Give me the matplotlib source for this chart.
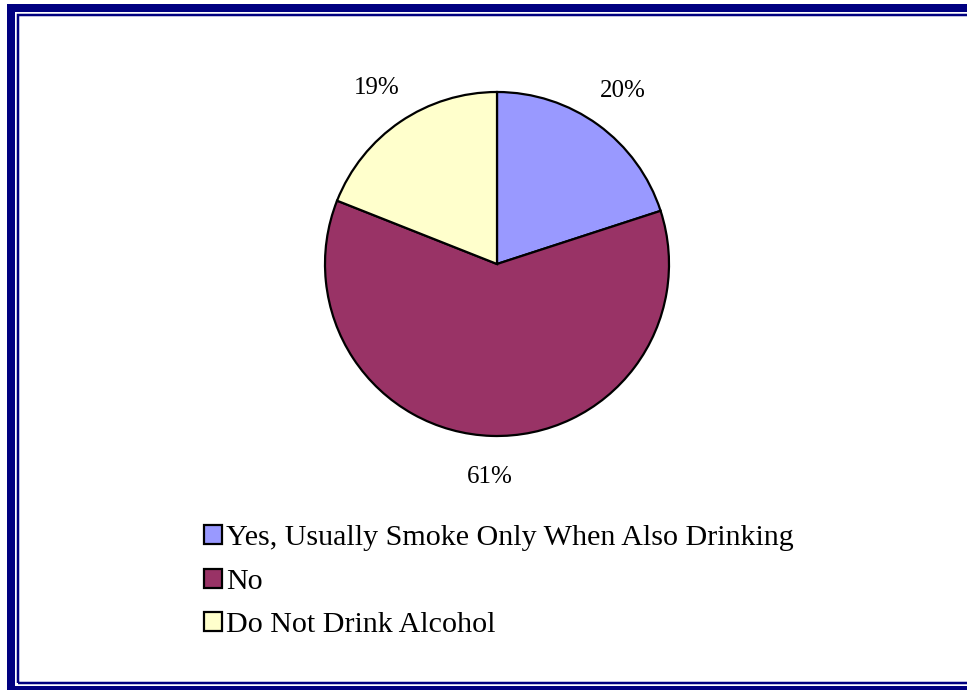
import matplotlib.pyplot as plt
from matplotlib.patches import Rectangle, Patch

plt.rcParams['font.family'] = ['Liberation Serif', 'DejaVu Serif']

# survey answers, clockwise from 12 o'clock
answers = ['Yes, Usually Smoke Only When Also Drinking', 'No', 'Do Not Drink Alcohol']
shares = [20, 61, 19]
colours = ['#9999FF', '#993366', '#FFFFCC']

W, H = 967, 690
fig = plt.figure(figsize=(W / 100, H / 100), dpi=100)

# pie placed by pixel centre and radius
cx, cy, r = 497, 264, 172
ax = fig.add_axes([(cx - r) / W, (H - cy - r) / H, 2 * r / W, 2 * r / H])
wedges, texts = ax.pie(shares, colors=colours, startangle=90, counterclock=False,
                       labels=[f'{s}%' for s in shares], labeldistance=1.24,
                       wedgeprops=dict(edgecolor='black', linewidth=1.6),
                       textprops=dict(fontsize=18, ha='center', va='center'))
ax.set_xlim(-1, 1)
ax.set_ylim(-1, 1)
ax.set_aspect('equal')

handles = [Patch(facecolor=c, edgecolor='black', linewidth=1.6) for c in colours]
fig.legend(handles, answers, loc='upper left',
           bbox_to_anchor=(192 / W, 1 - 513 / H), frameon=False,
           fontsize=21.6, handlelength=0.6, handleheight=0.6,
           handletextpad=0.15, labelspacing=0.58, borderaxespad=0)

# double navy frame round the chart, right side runs off the canvas
navy = '#000080'
px = lambda x, y: (x / W, 1 - y / H)
outer = Rectangle(px(11, 690), (1000 - 11) / W, (690 - 8) / H, transform=fig.transFigure,
                  fill=False, edgecolor=navy, linewidth=8 * 0.72)
inner = Rectangle(px(18, 683), (995 - 18) / W, (683 - 14.5) / H, transform=fig.transFigure,
                  fill=False, edgecolor=navy, linewidth=2.5 * 0.72)
fig.patches.extend([outer, inner])

fig.savefig('out.png', dpi=100)
